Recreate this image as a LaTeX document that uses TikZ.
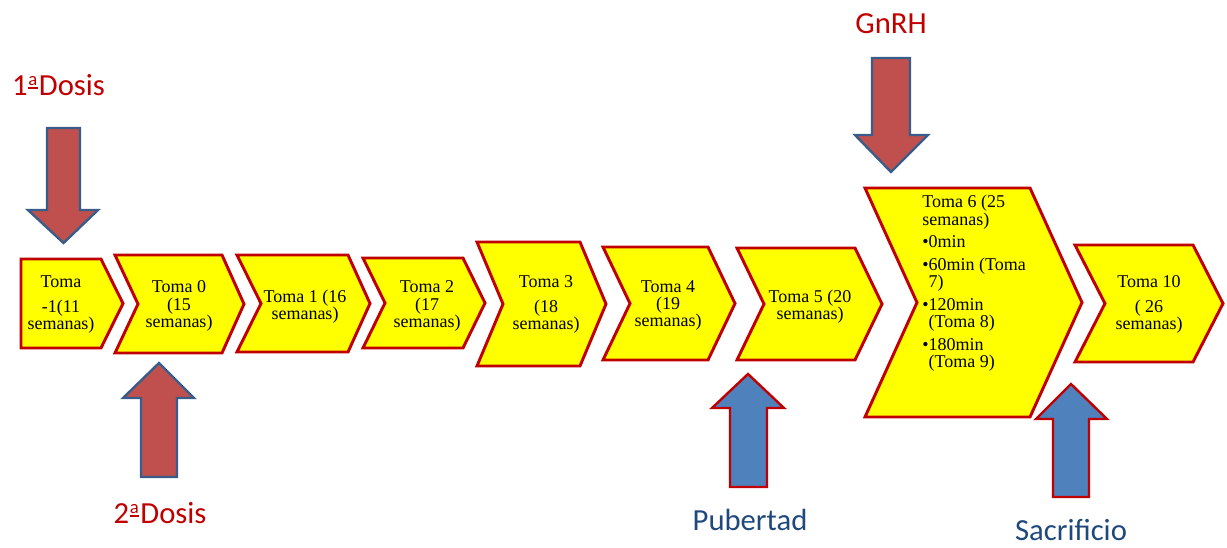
\documentclass[tikz,border=0pt]{standalone}
\usepackage{fontspec}
\setmainfont{Liberation Serif}
\newfontfamily\labelfont{Carlito}
\definecolor{chevyellow}{RGB}{255,255,0}
\definecolor{chevred}{RGB}{192,0,0}
\definecolor{arrowred}{RGB}{192,80,77}
\definecolor{arrowblue}{RGB}{56,93,138}
\definecolor{arrowfillblue}{RGB}{79,129,189}
\definecolor{labelred}{RGB}{192,0,0}
\definecolor{labelblue}{RGB}{31,73,125}
% feminine ordinal with the bar beneath the raised a
\newcommand\ordfem{\makebox[8pt][c]{\raisebox{7.5pt}{\fontsize{14pt}{14pt}\selectfont a}}\kern-7.5pt\rule[4.5pt]{7pt}{1.3pt}\kern1pt}
\tikzset{
  chev/.style={draw=chevred, fill=chevyellow, line width=2.2pt, line join=miter},
  tomatext/.style={inner sep=0pt, align=center, font=\fontsize{13.5pt}{13pt}\selectfont},
  dosearrow/.style={fill=arrowred, draw=arrowblue, line width=1.8pt, line join=miter},
  eventarrow/.style={fill=arrowfillblue, draw=chevred, line width=1.8pt, line join=miter},
  redlabel/.style={inner sep=0pt, anchor=base, text=labelred, font=\labelfont\fontsize{23pt}{23pt}\selectfont},
  bluelabel/.style={inner sep=0pt, anchor=base, text=labelblue, font=\labelfont\fontsize{23pt}{23pt}\selectfont}
}
\begin{document}
\begin{tikzpicture}[x=0.75pt, y=-0.75pt]
\useasboundingbox (0,0) rectangle (1227,547);

% sampling stages
\draw[chev] (21,259) -- (101,259) -- (123,303.5) -- (101,348) -- (21,348) -- cycle;
\draw[chev] (115,255) -- (222,255) -- (244,304) -- (222,353) -- (115,353) -- (138,304) -- cycle;
\draw[chev] (237,255) -- (348,255) -- (370,303.5) -- (348,352) -- (237,352) -- (261,303.5) -- cycle;
\draw[chev] (363,258) -- (463,258) -- (485,303) -- (463,348) -- (363,348) -- (385,303) -- cycle;
\draw[chev] (477,242) -- (580,242) -- (606,304) -- (580,366) -- (477,366) -- (503,304) -- cycle;
\draw[chev] (603,247) -- (708,247) -- (735,303.5) -- (708,360) -- (603,360) -- (630,303.5) -- cycle;
\draw[chev] (737,248) -- (855,248) -- (882,304) -- (855,360) -- (737,360) -- (764,304) -- cycle;
\draw[chev] (865,188) -- (1030,188) -- (1082,302.5) -- (1030,417) -- (865,417) -- (917,302.5) -- cycle;
\draw[chev] (1075,245) -- (1193,245) -- (1223,303.5) -- (1193,362) -- (1075,362) -- (1105,303.5) -- cycle;

\node[tomatext] (tm1) at (61,304.5) {Toma\\[6pt]-1(11\\semanas)};
\node[tomatext] (t0) at (179,306) {Toma 0\\(15\\semanas)};
\node[tomatext] (t1) at (305,306.5) {Toma 1 (16\\semanas)};
\node[tomatext] (t2) at (427,306) {Toma 2\\(17\\semanas)};
\node[tomatext] (t3) at (546,304.5) {Toma 3\\[6pt](18\\semanas)};
\node[tomatext] (t4) at (668,305.5) {Toma 4\\(19\\semanas)};
\node[tomatext] (t5) at (810,306.5) {Toma 5 (20\\semanas)};
\node[tomatext, align=left, anchor=north west] (t6) at (922,195)
  {Toma 6 (25\\semanas)\\[4pt]%
   \textbullet0min\\[4pt]%
   \textbullet60min (Toma\\\phantom{\textbullet}7)\\[4pt]%
   \textbullet120min\\\phantom{\textbullet}(Toma 8)\\[4pt]%
   \textbullet180min\\\phantom{\textbullet}(Toma 9)};
\node[tomatext] (t10) at (1149,304.5) {Toma 10\\[6pt]( 26\\semanas)};

% treatment arrows (pointing down / up)
\draw[dosearrow] (47,128) -- (80,128) -- (80,210) -- (98,210) -- (63.5,243)
  -- (28,210) -- (47,210) -- cycle;
\draw[dosearrow] (141,477) -- (177,477) -- (177,398) -- (194,398) -- (159,363)
  -- (123,398) -- (141,398) -- cycle;
\draw[dosearrow] (872,58) -- (910,58) -- (910,135) -- (928,135) -- (891,172)
  -- (855,135) -- (872,135) -- cycle;

% event arrows
\draw[eventarrow] (730,487) -- (767,487) -- (767,408) -- (784,408) -- (748,374)
  -- (712,408) -- (730,408) -- cycle;
\draw[eventarrow] (1053,497) -- (1089,497) -- (1089,419) -- (1107,419) -- (1071,384)
  -- (1036,419) -- (1053,419) -- cycle;

% labels
\node[redlabel] (dosis1) at (58.5,95) {1\ordfem Dosis};
\node[redlabel] (dosis2) at (160,523) {2\ordfem Dosis};
\node[redlabel] (gnrh) at (891,33) {GnRH};
\node[bluelabel] (pubertad) at (750,530) {Pubertad};
\node[bluelabel] (sacrificio) at (1071,540) {Sacrificio};
\end{tikzpicture}
\end{document}
